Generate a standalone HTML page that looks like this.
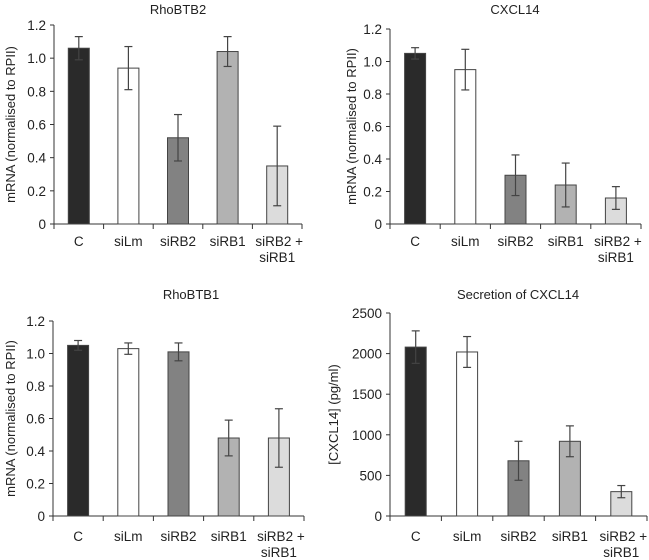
<!DOCTYPE html>
<html><head><meta charset="utf-8"><style>
html,body{margin:0;padding:0;background:#fff;}
svg{display:block;font-family:"Liberation Sans",Arial,sans-serif;}
</style></head><body>
<svg id="chart" width="649" height="560" viewBox="0 0 649 560"></svg>
<script>
const categories = ["C","siLm","siRB2","siRB1","siRB2 +|siRB1"];
const rhobtb2Values = [1.06, 0.94, 0.52, 1.04, 0.35];
const rhobtb2Errors = [0.07, 0.13, 0.14, 0.09, 0.24];
const cxcl14Values = [1.05, 0.95, 0.30, 0.24, 0.16];
const cxcl14Errors = [0.035, 0.125, 0.125, 0.135, 0.07];
const rhobtb1Values = [1.05, 1.03, 1.01, 0.48, 0.48];
const rhobtb1Errors = [0.03, 0.035, 0.055, 0.11, 0.18];
const secretionValues = [2080, 2020, 680, 920, 300];
const secretionErrors = [200, 190, 240, 190, 75];
const mrnaTicks = ["0","0.2","0.4","0.6","0.8","1.0","1.2"];
const secretionTicks = ["0","500","1000","1500","2000","2500"];
const fills = ["#2a2a2a","#ffffff","#828282","#b2b2b2","#dcdcdc"];

const NS="http://www.w3.org/2000/svg";
const svg=document.getElementById('chart');
function mk(tag,attrs,parent){const e=document.createElementNS(NS,tag);for(const k in attrs)e.setAttribute(k,attrs[k]);(parent||svg).appendChild(e);return e;}

const panels=[
 {name:"rhobtb2",title:"RhoBTB2",tx:178,ty:14,x0:54,x1:302,yTop:25,yZero:224,max:1.2,ticks:mrnaTicks,vals:rhobtb2Values,errs:rhobtb2Errors,ylab:"mRNA (normalised to RPII)",ylx:11,lab1:246},
 {name:"cxcl14",title:"CXCL14",tx:515,ty:14,x0:390,x1:641,yTop:29,yZero:224,max:1.2,ticks:mrnaTicks,vals:cxcl14Values,errs:cxcl14Errors,ylab:"mRNA (normalised to RPII)",ylx:352,lab1:246},
 {name:"rhobtb1",title:"RhoBTB1",tx:191,ty:299,x0:53,x1:304,yTop:321,yZero:516,max:1.2,ticks:mrnaTicks,vals:rhobtb1Values,errs:rhobtb1Errors,ylab:"mRNA (normalised to RPII)",ylx:11,lab1:541},
 {name:"secretion",title:"Secretion of CXCL14",tx:518,ty:299,x0:390,x1:647,yTop:313,yZero:516,max:2500,ticks:secretionTicks,vals:secretionValues,errs:secretionErrors,ylab:"[CXCL14] (pg/ml)",ylx:334,lab1:541}
];

panels.forEach(p=>{
  const g=mk('g',{});
  
  
  const y=v=>p.yZero-(v/p.max)*(p.yZero-p.yTop);
  const cw=(p.x1-p.x0)/categories.length;
  const t=mk('text',{x:p.tx,y:p.ty,'text-anchor':'middle','font-size':13,fill:'#222'},g);t.textContent=p.title;
  
  
  const yl=mk('text',{x:0,y:0,transform:`translate(${p.ylx+4},${(p.yTop+p.yZero)/2}) rotate(-90)`,'text-anchor':'middle','font-size':13,fill:'#222'},g);yl.textContent=p.ylab;
  
  
  // y axis
  const ya=mk('line',{x1:p.x0,y1:p.yTop,x2:p.x0,y2:p.yZero,stroke:'#333','stroke-width':1},g);
  
  
  p.ticks.forEach(tl=>{
    const v=parseFloat(tl);const yy=y(v);
    mk('line',{x1:p.x0-4,y1:yy,x2:p.x0,y2:yy,stroke:'#333'},g);
    const tt=mk('text',{x:p.x0-8,y:yy+5,'text-anchor':'end','font-size':13.5,fill:'#222'},g);tt.textContent=tl;
    
    
  });
  const xa=mk('line',{x1:p.x0,y1:p.yZero,x2:p.x1,y2:p.yZero,stroke:'#333'},g);
  
  
  for(let i=0;i<=categories.length;i++){const xx=p.x0+i*cw;mk('line',{x1:xx,y1:p.yZero,x2:xx,y2:p.yZero+5,stroke:'#333'},g);}
  categories.forEach((c,i)=>{
    const cx=p.x0+(i+0.5)*cw, bw=21;
    const v=p.vals[i], e=p.errs[i];
    const r=mk('rect',{x:cx-bw/2,y:y(v),width:bw,height:p.yZero-y(v),fill:fills[i],stroke:'#444','stroke-width':1},g);
    
    
    const eg=mk('g',{stroke:'#444','stroke-width':1.2},g);
    
    
    mk('line',{x1:cx,y1:y(v+e),x2:cx,y2:y(v-e)},eg);
    mk('line',{x1:cx-4,y1:y(v+e),x2:cx+4,y2:y(v+e)},eg);
    mk('line',{x1:cx-4,y1:y(v-e),x2:cx+4,y2:y(v-e)},eg);
    c.split('|').forEach((ln,j)=>{
      const lt=mk('text',{x:cx+(j===0&&c.includes('|')?2:0),y:p.lab1+j*16,'text-anchor':'middle','font-size':13.5,fill:'#222'},g);lt.textContent=ln;
      
      
    });
  });
});
</script>
</body></html>
